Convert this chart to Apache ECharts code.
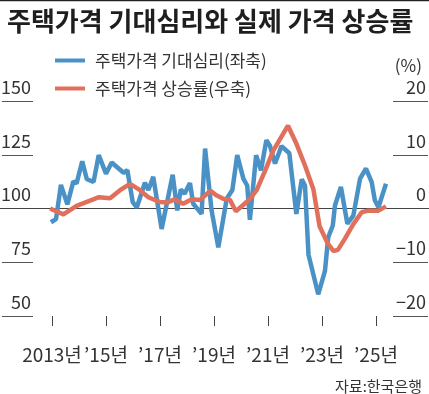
<!DOCTYPE html>
<html><head><meta charset="utf-8">
<script src="https://cdn.jsdelivr.net/npm/echarts@6/dist/echarts.min.js"></script>
<style>html,body{margin:0;padding:0;background:#fff}#c{width:429px;height:394px}</style>
</head><body><div id="c"></div>
<script>
const titleText = '주택가격 기대심리와 실제 가격 상승률';
const seriesNames = ['주택가격 기대심리(좌축)', '주택가격 상승률(우축)'];
const sourceText = '자료:한국은행';
const xFirstYear = 2013, xLastYear = 2025, xStep = 2;
const leftTicks = [50, 75, 100, 125, 150];
const rightTicks = [-20, -10, 0, 10, 20];

const blueYears = [2012.96, 2013.15, 2013.33, 2013.57, 2013.79, 2013.91, 2014.12, 2014.29, 2014.54, 2014.73, 2015.0, 2015.21, 2015.65, 2015.79, 2015.99, 2016.14, 2016.44, 2016.57, 2016.75, 2017.06, 2017.47, 2017.64, 2017.77, 2017.91, 2018.11, 2018.23, 2018.54, 2018.67, 2018.91, 2019.16, 2019.47, 2019.68, 2019.86, 2020.09, 2020.23, 2020.33, 2020.56, 2020.74, 2020.94, 2021.07, 2021.26, 2021.5, 2021.79, 2022.05, 2022.25, 2022.37, 2022.5, 2022.86, 2023.11, 2023.23, 2023.4, 2023.48, 2023.7, 2023.94, 2024.16, 2024.41, 2024.63, 2024.84, 2024.96, 2025.09, 2025.37];
const blueVals = [93.6, 95.1, 111.0, 101.9, 112.6, 111.7, 122.0, 113.6, 112.4, 124.8, 116.2, 121.4, 116.6, 117.8, 103.0, 100.5, 112.0, 108.6, 114.7, 90.5, 115.7, 99.1, 108.9, 106.9, 111.8, 102.2, 97.5, 127.9, 99.1, 81.9, 104.5, 108.6, 124.8, 113.8, 110.7, 94.7, 124.8, 117.8, 131.8, 129.2, 120.9, 129.0, 125.7, 97.5, 113.6, 110.7, 78.5, 60.1, 71.0, 86.6, 92.1, 101.4, 110.0, 92.9, 96.7, 113.9, 118.6, 112.3, 103.7, 100.6, 111.5];

const redYears = [2012.93, 2013.42, 2013.91, 2014.74, 2015.15, 2015.52, 2015.83, 2015.95, 2016.26, 2016.57, 2017.0, 2017.26, 2017.54, 2017.86, 2018.17, 2018.48, 2018.87, 2019.07, 2019.34, 2019.59, 2019.81, 2020.09, 2020.33, 2020.58, 2020.89, 2021.2, 2021.74, 2022.04, 2022.37, 2022.68, 2022.91, 2023.2, 2023.42, 2023.59, 2023.85, 2024.16, 2024.47, 2024.71, 2025.09, 2025.37];
const redVals = [0, -1.1, 0.5, 2.1, 1.9, 3.4, 4.4, 4.4, 3.4, 2.1, 1.2, 1.1, 1.7, 0.9, 1.7, 1.6, 3.3, 2.5, 1.8, 1.6, -0.5, 0.7, 1.8, 3.4, 7.0, 10.8, 15.4, 12.2, 8.0, 3.6, -3.3, -6.4, -7.9, -7.7, -5.6, -2.9, -0.7, -0.4, -0.4, 0.4];

const FONT = "'Noto Sans CJK KR', 'Noto Sans', sans-serif";
const BLUE = '#4a92c6';
const RED = '#e0705c';

const chart = echarts.init(document.getElementById('c'), null, {renderer: 'canvas'});
const gridTop = 101, gridH = 215;
chart.setOption({
  animation: false,
  backgroundColor: '#fff',
  textStyle: {fontFamily: FONT},
  graphic: [{type: 'line', shape: {x1: 0, y1: 0.5, x2: 429, y2: 0.5}, style: {stroke: '#222', lineWidth: 1.5}}],
  title: [
    {text: titleText, left: 2, top: 3, textStyle: {fontFamily: FONT, fontSize: 26, fontWeight: 'bold', color: '#1e1e1e'}},
    {text: '(%)', right: 2, top: 52, textStyle: {fontFamily: FONT, fontSize: 17, fontWeight: 'normal', color: '#333'}},
    {text: sourceText, right: 2, top: 374, textStyle: {fontFamily: FONT, fontSize: 15, fontWeight: 'normal', color: '#333'}}
  ],
  legend: {
    orient: 'vertical', left: 55, top: 51, padding: 0, itemGap: 9,
    itemWidth: 30, itemHeight: 4,
    textStyle: {fontFamily: FONT, fontSize: 17, color: '#333', lineHeight: 19, padding: [0, 0, 0, 5]},
    data: [{name: seriesNames[0], icon: 'rect'}, {name: seriesNames[1], icon: 'rect'}]
  },
  grid: [
    {left: 0, right: 0, top: gridTop, height: gridH},
    {left: 0, width: 33, top: gridTop, height: gridH},
    {left: 393, width: 35, top: gridTop, height: gridH},
    {left: 52, width: 324, top: gridTop, height: gridH}
  ],
  xAxis: [
    {type: 'value', gridIndex: 0, show: false, min: xFirstYear - 52 / 27, max: xLastYear + 53 / 27},
    {type: 'value', gridIndex: 1, show: false, min: 0, max: 1},
    {type: 'value', gridIndex: 2, show: false, min: 0, max: 1},
    {type: 'value', gridIndex: 3, min: xFirstYear, max: xLastYear, interval: xStep, position: 'bottom', offset: 9,
     axisLine: {show: false}, splitLine: {show: false},
     axisTick: {show: true, length: 10, lineStyle: {color: '#444', width: 1}},
     axisLabel: {margin: 20, fontSize: 19, color: '#333', fontFamily: FONT, showMinLabel: true, showMaxLabel: true,
       formatter: v => (Math.round(v) === xFirstYear ? xFirstYear + '년' : '\u2019' + String(Math.round(v)).slice(2) + '년')}}
  ],
  yAxis: [
    {type: 'value', gridIndex: 0, min: 50, max: 150, interval: 25, show: false},
    {type: 'value', gridIndex: 0, min: -20, max: 20, interval: 10, show: false},
    {type: 'value', gridIndex: 1, min: 50, max: 150, interval: 25, position: 'right',
     axisLine: {show: false}, axisTick: {show: false},
     splitLine: {show: true, lineStyle: {color: '#555', width: 1}},
     axisLabel: {inside: true, margin: 2, verticalAlign: 'bottom', padding: [0, 0, 5, 0], fontSize: 18, color: '#333', fontFamily: FONT}},
    {type: 'value', gridIndex: 2, min: -20, max: 20, interval: 10, position: 'right',
     axisLine: {show: false}, axisTick: {show: false},
     splitLine: {show: true, lineStyle: {color: '#555', width: 1}},
     axisLabel: {inside: true, margin: 2, verticalAlign: 'bottom', padding: [0, 0, 5, 0], fontSize: 18, color: '#333', fontFamily: FONT,
       formatter: v => (v < 0 ? '\u2212' + Math.abs(v) : String(v))}},
    {type: 'value', gridIndex: 3, show: false, min: 0, max: 1}
  ],
  series: [
    {name: seriesNames[0], type: 'line', xAxisIndex: 0, yAxisIndex: 0, clip: false,
     data: blueYears.map((y, i) => [y, blueVals[i]]),
     symbol: 'none', lineStyle: {color: BLUE, width: 4.5}, itemStyle: {color: BLUE},
     markLine: {silent: true, symbol: 'none', label: {show: false}, z: 1,
       lineStyle: {color: '#444', width: 1, type: 'solid'}, data: [{yAxis: 100}]}},
    {name: seriesNames[1], type: 'line', xAxisIndex: 0, yAxisIndex: 1, clip: false,
     data: redYears.map((y, i) => [y, redVals[i]]),
     symbol: 'none', lineStyle: {color: RED, width: 4.5}, itemStyle: {color: RED}}
  ]
});
</script></body></html>
